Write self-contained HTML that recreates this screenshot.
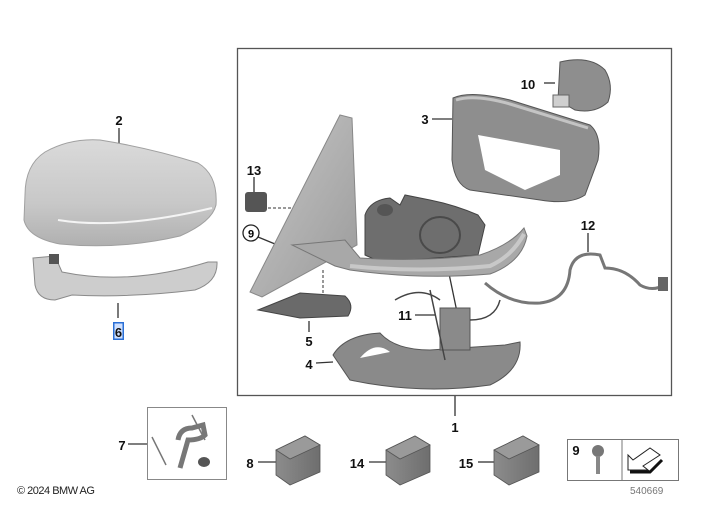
<!DOCTYPE html>
<html><head><style>
html,body{margin:0;padding:0;background:#fff;}
svg{display:block;}
text{font-family:"Liberation Sans",sans-serif;}
.l{font-size:13px;font-weight:bold;fill:#111;}
</style></head><body>
<svg width="726" height="505" viewBox="0 0 726 505" xmlns="http://www.w3.org/2000/svg">
<defs>
<linearGradient id="cap" x1="0" y1="0" x2="0" y2="1"><stop offset="0" stop-color="#dadada"/><stop offset="0.6" stop-color="#c8c8c8"/><stop offset="1" stop-color="#b0b0b0"/></linearGradient>
<linearGradient id="gl" x1="0" y1="0" x2="1" y2="1"><stop offset="0" stop-color="#c8c8c8"/><stop offset="1" stop-color="#9a9a9a"/></linearGradient>
<linearGradient id="bx" x1="0" y1="0" x2="1" y2="0"><stop offset="0" stop-color="#8c8c8c"/><stop offset="1" stop-color="#6e6e6e"/></linearGradient>
</defs>
<rect x="237.5" y="48.5" width="434" height="347" fill="none" stroke="#555" stroke-width="1.3"/>
<g stroke="#333" stroke-width="1.3" fill="none">
<line x1="119" y1="128" x2="119" y2="146"/>
<line x1="118" y1="303" x2="118" y2="318"/>
<line x1="254" y1="177" x2="254" y2="192"/>
<line x1="258" y1="237" x2="275" y2="244"/>
<line x1="309" y1="321" x2="309" y2="332"/>
<line x1="316" y1="363" x2="333" y2="362"/>
<line x1="432" y1="119" x2="452" y2="119"/>
<line x1="544" y1="83" x2="555" y2="83"/>
<line x1="588" y1="233" x2="588" y2="252"/>
<line x1="415" y1="315" x2="435" y2="315"/>
<line x1="455" y1="396" x2="455" y2="416"/>
<line x1="128" y1="444" x2="147" y2="444"/>
<line x1="258" y1="462" x2="276" y2="462"/>
<line x1="369" y1="462" x2="386" y2="462"/>
<line x1="478" y1="462" x2="494" y2="462"/>
<line x1="442" y1="240" x2="457" y2="312"/>
</g>
<!-- cap 2 -->
<path d="M25,195 Q25,165 45,152 Q70,138 100,140 Q150,148 198,163 Q218,175 216,205 Q212,222 180,236 Q120,250 60,244 Q28,238 24,220 Z" fill="url(#cap)" stroke="#a0a0a0" stroke-width="1"/>
<path d="M58,220 Q120,230 212,208" stroke="#f4f4f4" stroke-width="2" fill="none"/>
<!-- 6 strip -->
<path d="M33,258 L55,256 L62,272 Q130,286 208,262 L217,262 Q218,282 195,290 Q130,298 72,295 L55,300 Q38,300 35,285 Z" fill="#cdcdcd" stroke="#8a8a8a"/>
<rect x="49" y="254" width="10" height="10" fill="#555"/>
<rect x="113" y="322" width="11" height="18" fill="#2a6fd6"/>
<rect x="114.5" y="323.5" width="8" height="15" fill="#cfe0ff"/>
<text x="118.5" y="337" class="l" text-anchor="middle">6</text>
<!-- 13 -->
<rect x="245" y="192" width="22" height="20" rx="3" fill="#555"/>
<line x1="268" y1="208" x2="292" y2="208" stroke="#333" stroke-dasharray="3,2"/>
<circle cx="251" cy="233" r="8" fill="#fff" stroke="#222" stroke-width="1.3"/>
<text x="251" y="237.5" text-anchor="middle" style="font-size:11px;font-weight:bold">9</text>
<!-- glass -->
<path d="M340,115 L352,118 L357,245 L262,297 L250,292 Z" fill="url(#gl)" stroke="#888"/>
<!-- housing internals -->
<path d="M365,215 Q370,200 390,198 L400,205 L405,195 L430,200 Q455,205 478,215 L485,225 L478,255 L380,262 L365,255 Z" fill="#6e6e6e" stroke="#444"/>
<ellipse cx="385" cy="210" rx="8" ry="6" fill="#555"/>
<ellipse cx="440" cy="235" rx="20" ry="18" fill="none" stroke="#4a4a4a" stroke-width="2"/>
<!-- base shell -->
<path d="M292,245 L345,240 L360,258 Q420,262 480,255 Q510,245 524,228 L527,236 Q522,262 490,274 Q420,280 350,270 L335,266 Z" fill="#a8a8a8" stroke="#777"/>
<path d="M350,266 Q420,273 490,266 Q512,256 524,234" fill="none" stroke="#c8c8c8" stroke-width="4"/>
<line x1="323" y1="270" x2="323" y2="300" stroke="#333" stroke-dasharray="3,2"/>
<!-- 5 -->
<path d="M258,310 L300,293 L345,296 Q355,305 348,316 L300,318 Z" fill="#6a6a6a" stroke="#444"/>
<!-- 4 -->
<path d="M333,355 Q345,335 380,333 Q395,350 430,350 L505,345 L520,342 Q522,370 490,385 Q420,395 350,380 Z" fill="#8a8a8a" stroke="#555"/>
<path d="M360,358 Q375,340 390,352 Z" fill="#fff"/>
<!-- 3 frame -->
<path d="M453,98 Q470,90 510,100 L590,125 Q602,135 598,160 L585,195 Q570,205 540,200 L470,190 Q455,185 452,160 Z" fill="#8e8e8e" stroke="#555"/>
<path d="M456,100 Q475,94 510,104 L588,128" fill="none" stroke="#c4c4c4" stroke-width="3"/>
<path d="M478,135 L560,150 L560,175 L525,190 L485,170 Z" fill="#fff"/>
<!-- 10 motor -->
<path d="M560,62 Q590,55 605,70 Q614,85 608,102 Q595,114 575,110 L558,100 Z" fill="#8e8e8e" stroke="#555"/>
<rect x="553" y="95" width="16" height="12" fill="#cfcfcf" stroke="#666"/>
<!-- 12 cable -->
<path d="M485,283 Q510,305 540,303 Q568,300 570,270 Q575,250 600,255 L605,268 Q625,268 640,285 Q652,292 665,285" fill="none" stroke="#777" stroke-width="3"/>
<rect x="658" y="277" width="10" height="14" fill="#666"/>
<!-- 11 module -->
<rect x="440" y="308" width="30" height="42" fill="#8a8a8a" stroke="#555"/>
<path d="M395,300 Q420,285 440,300 M430,290 L445,360 M470,320 Q495,320 500,300" fill="none" stroke="#444" stroke-width="1.5"/>
<!-- box 7 -->
<rect x="147.5" y="407.5" width="79" height="72" fill="#fff" stroke="#888"/>
<path d="M178,440 Q180,428 192,428 L203,425 L205,435 Q200,440 188,440 L180,468" fill="none" stroke="#777" stroke-width="5"/>
<line x1="152" y1="437" x2="166" y2="465" stroke="#777" stroke-width="1.5"/>
<line x1="192" y1="415" x2="205" y2="440" stroke="#777" stroke-width="1.5"/>
<ellipse cx="204" cy="462" rx="6" ry="5" fill="#555"/>
<!-- grey boxes -->
<g stroke="#555" stroke-width="0.8">
<path d="M276,450 L305,436 L320,445 L320,472 L290,485 L276,475 Z" fill="url(#bx)"/>
<path d="M276,450 L305,436 L320,445 L290,459 Z" fill="#9a9a9a"/>
<path d="M386,450 L415,436 L430,445 L430,472 L400,485 L386,475 Z" fill="url(#bx)"/>
<path d="M386,450 L415,436 L430,445 L400,459 Z" fill="#9a9a9a"/>
<path d="M494,450 L523,436 L539,445 L539,472 L509,485 L494,475 Z" fill="url(#bx)"/>
<path d="M494,450 L523,436 L539,445 L509,459 Z" fill="#9a9a9a"/>
</g>
<!-- right box -->
<rect x="567.5" y="439.5" width="111" height="41" fill="#fff" stroke="#777"/>
<line x1="622" y1="440" x2="622" y2="480" stroke="#777"/>
<circle cx="598" cy="451" r="6" fill="#777"/>
<rect x="596" y="456" width="4" height="18" fill="#888"/>
<path d="M628,470 L628,455 L633,460 L650,448 L660,455 L643,466 L648,470 Z" fill="#fff" stroke="#222"/>
<path d="M630,472 L650,472 L662,460" fill="none" stroke="#111" stroke-width="3"/>
<!-- labels -->
<text x="119" y="125" class="l" text-anchor="middle">2</text>
<text x="254" y="175" class="l" text-anchor="middle">13</text>
<text x="309" y="346" class="l" text-anchor="middle">5</text>
<text x="309" y="369" class="l" text-anchor="middle">4</text>
<text x="425" y="124" class="l" text-anchor="middle">3</text>
<text x="528" y="89" class="l" text-anchor="middle">10</text>
<text x="588" y="230" class="l" text-anchor="middle">12</text>
<text x="405" y="320" class="l" text-anchor="middle">11</text>
<text x="455" y="432" class="l" text-anchor="middle">1</text>
<text x="122" y="450" class="l" text-anchor="middle">7</text>
<text x="250" y="468" class="l" text-anchor="middle">8</text>
<text x="357" y="468" class="l" text-anchor="middle">14</text>
<text x="466" y="468" class="l" text-anchor="middle">15</text>
<text x="576" y="455" class="l" text-anchor="middle">9</text>
<text x="17" y="494" style="font-size:11px;fill:#222;letter-spacing:-0.5px">© 2024 BMW AG</text>
<text x="630" y="494" style="font-size:10px;fill:#777">540669</text>
</svg>
</body></html>
